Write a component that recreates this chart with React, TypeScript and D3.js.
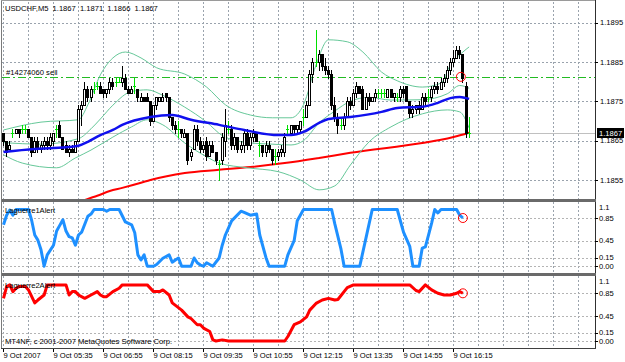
import React from "react";
import * as d3 from "d3";

// ---------------- data ----------------
const opens = [
  1.1867,1.1865,1.1863,1.1867,1.1867,1.1868,1.1868,1.1868,1.1868,1.1866,
  1.1862,1.1865,1.1863,1.1864,1.1865,1.1864,1.1865,1.1868,1.1869,1.1866,
  1.1864,1.1862,1.1863,1.1862,1.1865,1.1873,1.1874,1.1878,1.1876,1.1878,
  1.1879,1.1879,1.1878,1.1877,1.1878,1.1880,1.1880,1.1880,1.1880,1.1881,
  1.1878,1.1877,1.1879,1.1878,1.1875,1.1876,1.1876,1.1875,1.1870,1.1874,
  1.1875,1.1875,1.1877,1.1876,1.1871,1.1869,1.1868,1.1868,1.1866,1.1867,
  1.1861,1.1863,1.1868,1.1865,1.1863,1.1865,1.1861,1.1864,1.1862,1.1859,
  1.1860,1.1865,1.1868,1.1868,1.1864,1.1866,1.1863,1.1864,1.1867,1.1864,
  1.1866,1.1867,1.1864,1.1864,1.1862,1.1864,1.1863,1.1861,1.1861,1.1862,
  1.1862,1.1868,1.1867,1.1869,1.1868,1.1868,1.1871,1.1871,1.1874,1.1882,
  1.1885,1.1885,1.1887,1.1884,1.1883,1.1882,1.1874,1.1871,1.1869,1.1869,
  1.1871,1.1875,1.1874,1.1877,1.1879,1.1878,1.1873,1.1876,1.1875,1.1876,
  1.1877,1.1877,1.1877,1.1876,1.1878,1.1876,1.1876,1.1876,1.1878,1.1879,
  1.1875,1.1872,1.1873,1.1874,1.1873,1.1876,1.1876,1.1876,1.1878,1.1879,
  1.1878,1.1880,1.1881,1.1883,1.1885,1.1886,1.1888,1.1887,1.1879,1.1867,
];
const highs = [
  1.1867,1.1865,1.1865,1.1868,1.1868,1.1868,1.1869,1.1869,1.1868,1.1866,
  1.1866,1.1866,1.1865,1.1866,1.1866,1.1867,1.1867,1.1869,1.1870,1.1866,
  1.1865,1.1864,1.1864,1.1865,1.1874,1.1875,1.1880,1.1879,1.1879,1.1880,
  1.1880,1.1880,1.1878,1.1878,1.1881,1.1881,1.1881,1.1881,1.1884,1.1882,
  1.1879,1.1879,1.1881,1.1878,1.1877,1.1876,1.1877,1.1875,1.1874,1.1876,
  1.1876,1.1877,1.1877,1.1876,1.1871,1.1870,1.1870,1.1868,1.1868,1.1867,
  1.1863,1.1869,1.1869,1.1866,1.1865,1.1866,1.1865,1.1865,1.1862,1.1860,
  1.1867,1.1873,1.1870,1.1869,1.1867,1.1866,1.1865,1.1868,1.1868,1.1867,
  1.1868,1.1867,1.1865,1.1864,1.1865,1.1865,1.1863,1.1863,1.1863,1.1864,
  1.1867,1.1869,1.1869,1.1869,1.1869,1.1870,1.1873,1.1875,1.1883,1.1886,
  1.1893,1.1888,1.1887,1.1886,1.1884,1.1883,1.1876,1.1872,1.1871,1.1872,
  1.1876,1.1876,1.1878,1.1880,1.1879,1.1879,1.1877,1.1877,1.1876,1.1878,
  1.1878,1.1878,1.1878,1.1878,1.1878,1.1877,1.1877,1.1879,1.1879,1.1879,
  1.1875,1.1874,1.1874,1.1875,1.1877,1.1877,1.1878,1.1879,1.1880,1.1880,
  1.1881,1.1882,1.1884,1.1886,1.1888,1.1889,1.1889,1.1887,1.1880,1.1871,
];
const lows = [
  1.1864,1.1861,1.1863,1.1866,1.1867,1.1866,1.1867,1.1867,1.1866,1.1861,
  1.1862,1.1862,1.1862,1.1863,1.1863,1.1863,1.1864,1.1866,1.1866,1.1863,
  1.1862,1.1861,1.1862,1.1862,1.1865,1.1869,1.1874,1.1875,1.1875,1.1877,
  1.1878,1.1877,1.1876,1.1876,1.1877,1.1878,1.1879,1.1880,1.1879,1.1878,
  1.1877,1.1877,1.1877,1.1875,1.1875,1.1875,1.1875,1.1869,1.1870,1.1873,
  1.1875,1.1875,1.1875,1.1870,1.1868,1.1867,1.1866,1.1866,1.1866,1.1859,
  1.1860,1.1863,1.1864,1.1862,1.1862,1.1860,1.1861,1.1862,1.1859,1.1855,
  1.1859,1.1861,1.1867,1.1863,1.1863,1.1862,1.1862,1.1862,1.1863,1.1863,
  1.1865,1.1865,1.1861,1.1861,1.1861,1.1862,1.1859,1.1859,1.1860,1.1861,
  1.1861,1.1867,1.1867,1.1867,1.1867,1.1867,1.1869,1.1871,1.1874,1.1880,
  1.1884,1.1883,1.1883,1.1882,1.1881,1.1873,1.1870,1.1867,1.1868,1.1868,
  1.1871,1.1873,1.1874,1.1876,1.1877,1.1873,1.1873,1.1874,1.1875,1.1875,
  1.1876,1.1876,1.1876,1.1876,1.1876,1.1875,1.1875,1.1875,1.1876,1.1875,
  1.1871,1.1871,1.1872,1.1872,1.1873,1.1874,1.1875,1.1875,1.1877,1.1877,
  1.1878,1.1879,1.1880,1.1882,1.1884,1.1886,1.1886,1.1880,1.1866,1.1866,
];
const closes = [
  1.1865,1.1862,1.1864,1.1867,1.1868,1.1867,1.1868,1.1868,1.1866,1.1862,
  1.1865,1.1863,1.1864,1.1865,1.1864,1.1866,1.1867,1.1868,1.1866,1.1863,
  1.1862,1.1863,1.1862,1.1865,1.1873,1.1874,1.1878,1.1876,1.1878,1.1878,
  1.1879,1.1877,1.1877,1.1878,1.1880,1.1879,1.1880,1.1880,1.1881,1.1878,
  1.1877,1.1878,1.1879,1.1876,1.1876,1.1875,1.1875,1.1870,1.1874,1.1876,
  1.1876,1.1876,1.1876,1.1871,1.1869,1.1868,1.1868,1.1867,1.1867,1.1860,
  1.1862,1.1868,1.1865,1.1863,1.1864,1.1861,1.1864,1.1862,1.1860,1.1859,
  1.1866,1.1869,1.1868,1.1864,1.1866,1.1863,1.1864,1.1867,1.1864,1.1866,
  1.1867,1.1865,1.1864,1.1862,1.1864,1.1863,1.1860,1.1861,1.1862,1.1863,
  1.1866,1.1868,1.1869,1.1868,1.1869,1.1870,1.1871,1.1874,1.1882,1.1885,
  1.1885,1.1887,1.1884,1.1883,1.1882,1.1874,1.1871,1.1869,1.1869,1.1871,
  1.1875,1.1874,1.1877,1.1879,1.1877,1.1873,1.1876,1.1875,1.1876,1.1877,
  1.1877,1.1877,1.1877,1.1878,1.1876,1.1877,1.1876,1.1878,1.1877,1.1875,
  1.1872,1.1873,1.1874,1.1873,1.1876,1.1875,1.1876,1.1878,1.1879,1.1878,
  1.1880,1.1881,1.1883,1.1885,1.1886,1.1888,1.1887,1.1881,1.1867,1.1867,
];

// moving averages and bands: [bar index, price]
const maFast: [number, number][] = [
  [0,1.18621],[10,1.18629],[16,1.18631],[21,1.18634],[24,1.18637],[27,1.18647],
  [31,1.18664],[35,1.18677],[38,1.18690],[47,1.18710],[54,1.18715],[60,1.18703],
  [69,1.18690],[77,1.18677],[88,1.18664],[92,1.18664],[96,1.18672],[101,1.18695],
  [104,1.18705],[111,1.18710],[121,1.18723],[126,1.18733],[134,1.18736],[139,1.18746],
  [143,1.18758],[146,1.18761],[148,1.18758],[149,1.18756],
];
const maSlow: [number, number][] = [
  [23,1.18490],[27,1.18502],[30,1.18510],[34,1.18522],[38,1.18530],[44,1.18543],
  [47,1.18550],[58,1.18568],[69,1.18576],[79,1.18583],[90,1.18593],[101,1.18606],
  [111,1.18619],[134,1.18644],[140,1.18652],[144,1.18659],[149,1.18670],
];
const bandUpper: [number, number][] = [
  [0,1.18677],[12,1.18697],[24,1.18703],[27,1.18741],[31,1.18817],[35,1.18860],
  [39,1.18875],[44,1.18860],[49,1.18835],[58,1.18819],[65,1.18786],[71,1.18741],
  [79,1.18715],[86,1.18708],[92,1.18708],[96,1.18741],[100,1.18842],[104,1.18906],
  [110,1.18901],[115,1.18875],[121,1.18824],[126,1.18802],[134,1.18786],[140,1.18796],
  [143,1.18842],[147,1.18875],[149,1.18888],
];
const bandMiddle: [number, number][] = [
  [0,1.18645],[12,1.18641],[24,1.18655],[28,1.18680],[31,1.18705],[35,1.18740],
  [41,1.18775],[46,1.18779],[51,1.18765],[58,1.18735],[65,1.18697],[70,1.18663],
  [78,1.18645],[86,1.18641],[92,1.18639],[96,1.18650],[101,1.18695],[106,1.18725],
  [111,1.18750],[117,1.18760],[124,1.18753],[134,1.18754],[142,1.18769],[146,1.18790],
  [149,1.18783],
];
const bandLower: [number, number][] = [
  [0,1.18614],[6,1.18593],[17,1.18581],[23,1.18606],[28,1.18626],[35,1.18659],
  [41,1.18685],[46,1.18703],[51,1.18690],[58,1.18644],[65,1.18609],[69,1.18593],
  [78,1.18581],[88,1.18571],[95,1.18550],[101,1.18525],[106,1.18535],[111,1.18588],
  [117,1.18647],[124,1.18685],[134,1.18718],[142,1.18728],[146,1.18723],[149,1.18682],
];

// Laguerre indicators: [bar index, value]
const laguerre1: [number, number][] = [
  [0,0.73],[1,0.9],[2,0.99],[3,0.9],[4,1.0],[8,1.0],[9,0.81],[10,0.55],[11,0.46],[12,0.29],
  [13,0.0],[14,0.2],[16,0.37],[17,0.62],[18,0.72],[19,0.82],[20,0.62],[21,0.52],[22,0.5],
  [23,0.37],[24,0.55],[25,0.6],[27,0.88],[28,0.92],[29,1.0],[32,1.0],[33,0.97],[34,1.0],
  [37,1.0],[39,0.78],[41,0.73],[42,0.59],[43,0.2],[44,0.11],[45,0.2],[46,0.0],[48,0.0],
  [49,0.03],[51,0.14],[53,0.2],[54,0.07],[55,0.11],[56,0.145],[57,0.0],[60,0.0],[61,0.145],
  [62,0.06],[63,0.02],[64,0.0],[65,0.06],[67,0.0],[69,0.145],[70,0.37],[71,0.55],[73,0.8],
  [76,0.97],[77,0.95],[79,0.9],[81,0.92],[82,0.55],[84,0.15],[85,0.0],[90,0.0],[91,0.2],
  [93,0.45],[94,0.8],[96,1.0],[105,1.0],[106,0.75],[108,0.3],[109,0.0],[114,0.0],[116,0.5],
  [118,1.0],[126,1.0],[128,0.6],[130,0.35],[131,0.0],[133,0.0],[134,0.32],[135,0.34],
  [136,0.55],[137,0.76],[138,1.0],[139,0.94],[140,1.0],[145,1.0],[146,0.9],[147,0.85],
];
const laguerre2: [number, number][] = [
  [0,0.76],[1,0.97],[2,1.0],[3,0.88],[4,0.94],[5,0.97],[7,0.97],[8,0.91],[10,0.68],[11,0.73],
  [13,0.82],[14,1.0],[15,1.0],[20,1.0],[21,0.82],[22,0.88],[23,0.88],[24,0.82],[26,0.76],
  [28,0.82],[30,0.88],[31,0.82],[32,0.79],[33,0.79],[35,0.88],[37,0.94],[38,1.0],[46,1.0],
  [48,0.88],[50,0.88],[51,0.91],[53,0.82],[54,0.68],[57,0.55],[59,0.43],[60,0.4],[62,0.29],
  [63,0.29],[64,0.23],[66,0.17],[67,0.02],[68,0.0],[70,0.02],[72,0.0],[90,0.0],[91,0.08],
  [93,0.29],[95,0.34],[97,0.43],[98,0.55],[100,0.67],[102,0.73],[104,0.76],[106,0.73],
  [107,0.74],[110,0.95],[112,1.0],[130,1.0],[132,0.9],[133,0.88],[135,1.0],[137,0.91],
  [139,0.85],[141,0.82],[143,0.82],[145,0.85],[146,0.88],[147,0.85],
];

const timeTickBars = [0, 16, 32, 48, 64, 80, 96, 112, 128, 144];
const timeTickLabels = [
  "9 Oct 2007", "9 Oct 05:35", "9 Oct 06:55", "9 Oct 08:15", "9 Oct 09:35",
  "9 Oct 10:55", "9 Oct 12:15", "9 Oct 13:35", "9 Oct 14:55", "9 Oct 16:15",
];
const priceTicks = [1.1895, 1.1885, 1.1875, 1.1865, 1.1855];
const priceTickLabels = ["1.1895", "1.1885", "1.1875", "1.1865", "1.1855"];
const lastPrice = 1.1867;
const lastPriceLabel = "1.1867";
const sellPrice = 1.18812;
const sellLabel = "#14274060 sell";
const titleText = "USDCHF,M5 1.1867 1.1871 1.1866 1.1867";
const indicatorMax = 1.1;
const levelValues = [0.85, 0.45, 0.15, 0.0];
const levelLabels = ["0.85", "0.45", "0.15", "0.00"];
const panel1Name = "Laguerre1Alert";
const panel2Name = "Laguerre2Alert";
const copyright = "MT4NF, c 2001-2007 MetaQuotes Software Corp.";
const alertBar = 147;

// ---------------- layout ----------------
const W = 625, H = 362;
const L = 2, R = 595;
const mainTop = 2, mainBottom = 199;
const p1Top = 202, p1Bottom = 273;
const p2Top = 276, p2Bottom = 348;
const FONT = "'Liberation Sans', Arial, sans-serif";
const FS = 7.6;

export default function App() {
  const x = d3.scaleLinear().domain([0, 16]).range([3.5, 53.5]);
  const yMain = d3.scaleLinear().domain([1.1855, 1.1895]).range([180, 22.5]);
  const y1 = d3.scaleLinear().domain([0, 0.85]).range([266.2, 218]);
  const y2 = d3.scaleLinear().domain([0, 0.85]).range([341, 293.3]);
  const px = (i: number) => Math.floor(x(i));
  const ry = (v: number) => Math.round(yMain(v)) + 0.5;

  const gridX = d3.range(0, 24).map((k) => Math.floor(x(8 * k)) + 0.5);

  const mkLine = (ys: d3.ScaleLinear<number, number>, curve: d3.CurveFactory) =>
    d3.line<[number, number]>().x((d) => x(d[0])).y((d) => ys(d[1])).curve(curve);
  const mainLine = mkLine(yMain, d3.curveMonotoneX);
  const l1Line = mkLine(y1, d3.curveLinear);
  const l2Line = mkLine(y2, d3.curveLinear);

  const gridStroke = "#9aa3ad";
  const levelStroke = "#b4b4b4";
  const bandColor = "#66c899";

  const textProps = { fontFamily: FONT, fontSize: FS, fill: "#000" };

  const candles = opens.map((o, i) => {
    const h = highs[i], l = lows[i], c = closes[i];
    const cx = px(i);
    if (o === c) {
      return (
        <g key={i} stroke="#00e000" strokeWidth={1}>
          <line x1={cx + 0.5} x2={cx + 0.5} y1={ry(h) - 0.5} y2={ry(l) + 0.5} />
          <line x1={cx - 1} x2={cx + 2} y1={ry(o)} y2={ry(o)} />
        </g>
      );
    }
    const top = ry(Math.max(o, c));
    const bot = ry(Math.min(o, c));
    const bull = c > o;
    return (
      <g key={i}>
        <line x1={cx + 0.5} x2={cx + 0.5} y1={ry(h) - 0.5} y2={ry(l) + 0.5} stroke="#000" />
        <rect x={cx - 0.5} y={top} width={2} height={Math.max(bot - top, 1)}
          fill={bull ? "#fff" : "#000"} stroke="#000" strokeWidth={1} />
      </g>
    );
  });

  const panelGrid = (top: number, bottom: number, key: string) =>
    gridX.map((gx, k) => (
      <line key={key + k} x1={gx} x2={gx} y1={top} y2={bottom}
        stroke={gridStroke} strokeDasharray="2,2" />
    ));

  const levelLines = (ys: d3.ScaleLinear<number, number>, key: string) =>
    levelValues.map((v, k) => {
      const yy = Math.round(ys(v)) + 0.5;
      return (
        <line key={key + k} x1={L} x2={R} y1={yy} y2={yy}
          stroke={levelStroke} strokeDasharray="2,2" />
      );
    });

  const levelTexts = (ys: d3.ScaleLinear<number, number>, top: number, key: string) => (
    <g>
      <text x={599} y={Math.max(ys(indicatorMax), top + 5) + 2.8} {...textProps}>
        {String(indicatorMax)}
      </text>
      {levelValues.map((v, k) => (
        <g key={key + k}>
          <line x1={R} x2={R + 3} y1={Math.round(ys(v)) + 0.5} y2={Math.round(ys(v)) + 0.5} stroke="#000" />
          <text x={599} y={ys(v) + 2.8} {...textProps}>{levelLabels[k]}</text>
        </g>
      ))}
    </g>
  );

  const lastY = yMain(lastPrice);
  const sellY = Math.round(yMain(sellPrice)) + 0.5;
  const alertPoint = laguerre1.find((d) => d[0] === alertBar)!;
  const alertPoint2 = laguerre2.find((d) => d[0] === alertBar)!;

  return (
    <svg width={W} height={H} viewBox={`0 0 ${W} ${H}`}
      style={{ position: "absolute", left: 0, top: 0, background: "#fff" }}>
      <defs>
        <clipPath id="clipMain"><rect x={L} y={mainTop} width={R - L} height={mainBottom - mainTop} /></clipPath>
        <clipPath id="clipP1"><rect x={L} y={p1Top} width={R - L} height={p1Bottom - p1Top} /></clipPath>
        <clipPath id="clipP2"><rect x={L} y={p2Top} width={R - L} height={p2Bottom - p2Top} /></clipPath>
      </defs>
      <rect x={0} y={0} width={W} height={H} fill="#fff" />

      {/* grids */}
      <g shapeRendering="crispEdges">
        {panelGrid(mainTop, mainBottom, "gm")}
        {panelGrid(p1Top, p1Bottom, "g1")}
        {panelGrid(p2Top, p2Bottom, "g2")}
        {priceTicks.map((p, k) => (
          <line key={"hp" + k} x1={L} x2={R} y1={ry(p)} y2={ry(p)}
            stroke={gridStroke} strokeDasharray="2,2" />
        ))}
        {levelLines(y1, "l1")}
        {levelLines(y2, "l2")}
      </g>

      {/* main panel */}
      <g clipPath="url(#clipMain)">
        <line x1={L} x2={R} y1={Math.round(lastY) + 0.5} y2={Math.round(lastY) + 0.5}
          stroke="#c0c0c0" shapeRendering="crispEdges" />
        <line x1={L} x2={R} y1={sellY} y2={sellY} stroke="#22bb22"
          strokeDasharray="8,3,2,3" shapeRendering="crispEdges" />
        <path d={mainLine(maSlow) || ""} fill="none" stroke="#ff0000" strokeWidth={2} />
        <path d={mainLine(bandUpper) || ""} fill="none" stroke={bandColor} strokeWidth={1} />
        <path d={mainLine(bandMiddle) || ""} fill="none" stroke={bandColor} strokeWidth={1} />
        <path d={mainLine(bandLower) || ""} fill="none" stroke={bandColor} strokeWidth={1} />
        <g shapeRendering="crispEdges">{candles}</g>
        <path d={mainLine(maFast) || ""} fill="none" stroke="#1010ee" strokeWidth={2.5} />
        <circle cx={x(alertBar) - 2} cy={yMain(sellPrice)} r={4.5} fill="none" stroke="#ff0000" strokeWidth={1} />
      </g>
      <text x={5} y={11} {...textProps} wordSpacing={2}>{titleText}</text>
      <text x={6} y={75} {...textProps}>{sellLabel}</text>

      {/* panel 1 */}
      <g clipPath="url(#clipP1)">
        <path d={l1Line(laguerre1) || ""} fill="none" stroke="#1e90ff" strokeWidth={3} strokeLinejoin="round" />
        <circle cx={x(alertBar)} cy={y1(alertPoint[1])} r={4.5} fill="none" stroke="#ff0000" strokeWidth={1} />
      </g>
      <text x={5} y={213} {...textProps}>{panel1Name}</text>

      {/* panel 2 */}
      <g clipPath="url(#clipP2)">
        <path d={l2Line(laguerre2) || ""} fill="none" stroke="#ff0000" strokeWidth={3} strokeLinejoin="round" />
        <circle cx={x(alertBar)} cy={y2(alertPoint2[1])} r={4.5} fill="none" stroke="#ff0000" strokeWidth={1} />
      </g>
      <text x={5} y={288} {...textProps}>{panel2Name}</text>
      <text x={5} y={344} {...textProps}>{copyright}</text>

      {/* frames */}
      <g shapeRendering="crispEdges">
        <line x1={1.5} x2={1.5} y1={0} y2={p2Bottom + 1} stroke="#7a7a7a" />
        <line x1={1} x2={R} y1={0.5} y2={0.5} stroke="#9a9a9a" />
        <line x1={R + 0.5} x2={R + 0.5} y1={0} y2={p2Bottom + 1} stroke="#303030" />
        <rect x={L} y={mainBottom} width={R - L + 1} height={2.5} fill="#6a6a6a" />
        <rect x={L} y={p1Bottom} width={R - L + 1} height={2.5} fill="#6a6a6a" />
        <line x1={1} x2={R + 1} y1={p2Bottom + 0.5} y2={p2Bottom + 0.5} stroke="#404040" />
      </g>

      {/* right price axis */}
      {priceTicks.map((p, k) => (
        <g key={"pt" + k}>
          <line x1={R} x2={R + 3} y1={ry(p)} y2={ry(p)} stroke="#000" shapeRendering="crispEdges" />
          <text x={600} y={yMain(p) + 2.8} {...textProps}>{priceTickLabels[k]}</text>
        </g>
      ))}
      <rect x={597} y={Math.round(lastY) - 5} width={27} height={10} fill="#000" />
      <text x={599} y={lastY + 2.8} {...textProps} fill="#fff">{lastPriceLabel}</text>

      {levelTexts(y1, p1Top, "t1")}
      {levelTexts(y2, p2Top, "t2")}

      {/* time axis */}
      {timeTickBars.map((b, k) => {
        const tx = Math.floor(x(b)) + 0.5;
        return (
          <g key={"tt" + k}>
            <line x1={tx} x2={tx} y1={p2Bottom + 1} y2={p2Bottom + 4} stroke="#000" shapeRendering="crispEdges" />
            <text x={tx} y={358} {...textProps}>{timeTickLabels[k]}</text>
          </g>
        );
      })}
    </svg>
  );
}
